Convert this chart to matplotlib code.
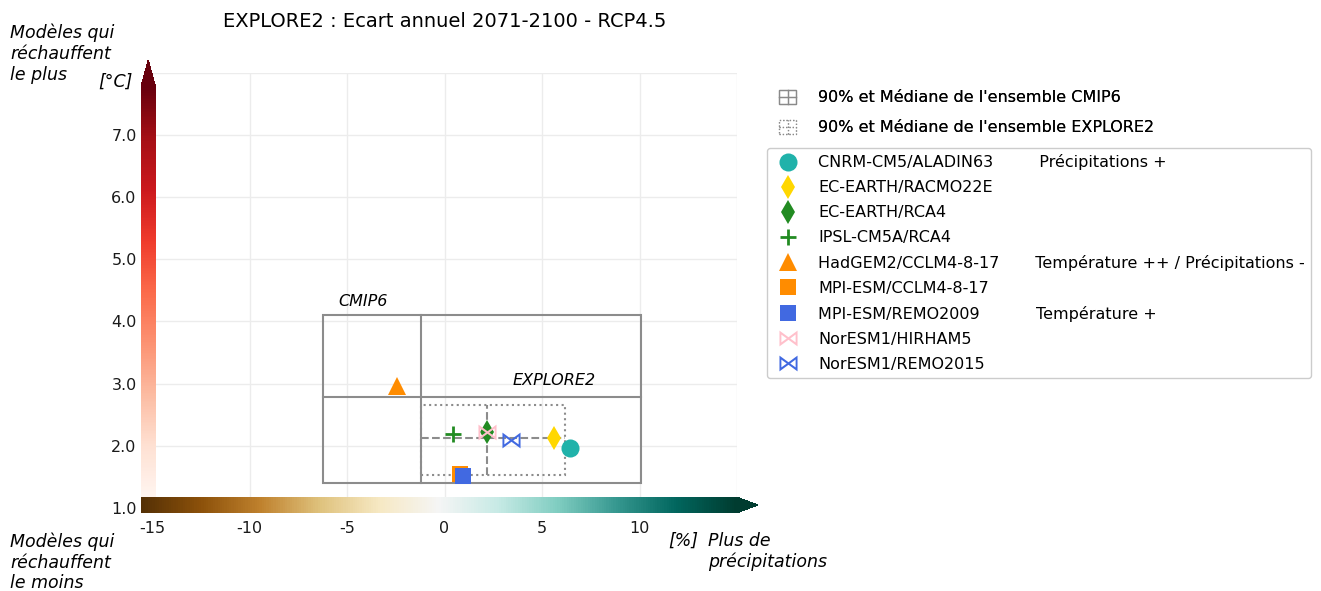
import numpy as np
import matplotlib
matplotlib.use("Agg")
import matplotlib.pyplot as plt
from matplotlib.colors import Normalize
from matplotlib.colorbar import ColorbarBase
from matplotlib.legend_handler import HandlerBase
from matplotlib.patches import Rectangle
from matplotlib.lines import Line2D

# models (precip change %, temperature change degC)
models = ["CNRM-CM5/ALADIN63", "EC-EARTH/RACMO22E", "EC-EARTH/RCA4", "IPSL-CM5A/RCA4",
          "HadGEM2/CCLM4-8-17", "MPI-ESM/CCLM4-8-17", "MPI-ESM/REMO2009",
          "NorESM1/HIRHAM5", "NorESM1/REMO2015"]
precip = [6.45, 5.64, 2.19, 0.42, -2.42, 0.78, 0.95, 2.19, 3.43]
temp = [1.96, 2.12, 2.23, 2.19, 2.97, 1.54, 1.52, 2.22, 2.09]
notes = ["Précipitations +", "", "", "", "Température ++ / Précipitations -", "",
         "Température +", "", ""]
pad = [9, 0, 0, 0, 7, 0, 11, 0, 0]

markers = ["o", "d", "d", "+", "^", "s", "s", "$\\bowtie$", "$\\bowtie$"]
colors = ["lightseagreen", "gold", "forestgreen", "forestgreen", "darkorange",
          "darkorange", "royalblue", "pink", "royalblue"]
sizes = [13, 12.5, 12, 11, 13, 12, 12, 13, 13]

# ensembles: 5%, median, 95%
cmip6_pr = [-6.22, -1.21, 10.08]
cmip6_tas = [1.41, 2.79, 4.10]
explore2_pr = [-1.23, 2.19, 6.18]
explore2_tas = [1.53, 2.12, 2.66]

W, H = 1321, 591
fig = plt.figure(figsize=(W / 100, H / 100), dpi=100)

def fx(px):
    return px / W

def fy(py):
    return 1 - py / H

ax = fig.add_axes([fx(152), fy(508), fx(737) - fx(152), fy(72.8) - fy(508)])
ax.set_xlim(-15, 15)
ax.set_ylim(1, 8)
ax.set_xticks([-15, -10, -5, 0, 5, 10, 15])
ax.set_xticklabels(["-15", "-10", "-5", "0", "5", "10", ""])
ax.set_yticks([1, 2, 3, 4, 5, 6, 7, 8])
ax.set_yticklabels(["1.0", "2.0", "3.0", "4.0", "5.0", "6.0", "7.0", ""])
ax.tick_params(length=0, labelsize=11.5, labelcolor="#1a1a1a")
ax.tick_params(axis="x", pad=9.5)
ax.tick_params(axis="y", pad=11)
ax.grid(True, color="#ececec", lw=1)
ax.set_axisbelow(True)
for s in ax.spines.values():
    s.set_visible(False)
ax.set_title("EXPLORE2 : Ecart annuel 2071-2100 - RCP4.5", fontsize=14, pad=33)

# CMIP6 box
g = "#8c8c8c"
ax.add_patch(Rectangle((cmip6_pr[0], cmip6_tas[0]), cmip6_pr[2] - cmip6_pr[0],
                       cmip6_tas[2] - cmip6_tas[0], fill=False, ec=g, lw=1.5, zorder=2))
ax.plot([cmip6_pr[1], cmip6_pr[1]], [cmip6_tas[0], cmip6_tas[2]], color=g, lw=1.5, zorder=2)
ax.plot([cmip6_pr[0], cmip6_pr[2]], [cmip6_tas[1], cmip6_tas[1]], color=g, lw=1.5, zorder=2)
ax.text(-5.45, 4.32, "CMIP6", style="italic", fontsize=11.5, va="center")

# EXPLORE2 box
ax.add_patch(Rectangle((explore2_pr[0], explore2_tas[0]), explore2_pr[2] - explore2_pr[0],
                       explore2_tas[2] - explore2_tas[0], fill=False, ec=g, lw=1.5,
                       ls=":", zorder=2))
ax.plot([explore2_pr[1], explore2_pr[1]], [explore2_tas[0], explore2_tas[2]], color=g,
        lw=1.5, ls="--", zorder=2)
ax.plot([explore2_pr[0], explore2_pr[2]], [explore2_tas[1], explore2_tas[1]], color=g,
        lw=1.5, ls="--", zorder=2)
ax.text(3.48, 3.05, "EXPLORE2", style="italic", fontsize=11.5, va="center")

handles = []
for i in range(len(models)):
    mew = 2 if markers[i] == "+" else 0
    h, = ax.plot(precip[i], temp[i], ls="none", marker=markers[i], color=colors[i],
                 ms=sizes[i], mew=mew, zorder=5)
    handles.append(h)

# colorbars (extension triangles sit inside the axes)
cax_v = fig.add_axes([fx(141), fy(497), fx(155.5) - fx(141), fy(60) - fy(497)])
cb_v = ColorbarBase(cax_v, cmap=plt.get_cmap("Reds"), norm=Normalize(1, 8),
                    orientation="vertical", extend="max", extendfrac=0.065)
cb_v.set_ticks([])
cb_v.outline.set_visible(False)

cax_h = fig.add_axes([fx(140.7), fy(513), fx(758) - fx(140.7), fy(497) - fy(513)])
cb_h = ColorbarBase(cax_h, cmap=plt.get_cmap("BrBG"), norm=Normalize(-15, 15),
                    orientation="horizontal", extend="max", extendfrac=0.036)
cb_h.set_ticks([])
cb_h.outline.set_visible(False)

# side texts, one line each
top_lines = ["Modèles qui", "réchauffent", "le plus"]
bottom_lines = ["Modèles qui", "réchauffent", "le moins"]
for k in range(3):
    fig.text(fx(10), fy(33 + 21 * k), top_lines[k], style="italic", fontsize=12.5,
             va="center", ha="left")
    fig.text(fx(10), fy(542 + 20.5 * k), bottom_lines[k], style="italic", fontsize=12.5,
             va="center", ha="left")
fig.text(fx(133), fy(82), "[°C]", style="italic", fontsize=12.5, va="center", ha="right")
fig.text(fx(668), fy(541), "[%]", style="italic", fontsize=12.5, va="center", ha="left")
fig.text(fx(708), fy(541), "Plus de", style="italic", fontsize=12.5, va="center", ha="left")
fig.text(fx(708), fy(562), "précipitations", style="italic", fontsize=12.5,
         va="center", ha="left")


class BoxHandler(HandlerBase):
    def __init__(self, ls):
        HandlerBase.__init__(self)
        self.ls = ls

    def create_artists(self, legend, orig_handle, xdescent, ydescent, width, height,
                       fontsize, trans):
        cx = width / 2 - xdescent
        cy = height / 2 - ydescent
        w = 12
        h = 10
        c = "#8a8a8a"
        arts = [Rectangle((cx - w / 2, cy - h / 2), w, h, fill=False, ec=c,
                          lw=0.9, ls=self.ls, transform=trans)]
        arts.append(Line2D([cx, cx], [cy - h / 2, cy + h / 2], color=c, lw=0.9,
                           ls=self.ls, transform=trans))
        arts.append(Line2D([cx - w / 2, cx + w / 2], [cy, cy], color=c, lw=0.9,
                           ls=self.ls, transform=trans))
        return arts


box1 = Rectangle((0, 0), 1, 1)
box2 = Rectangle((0, 0), 1, 1)
leg1 = fig.legend([box1, box2], ["90% et Médiane de l'ensemble CMIP6",
                                 "90% et Médiane de l'ensemble EXPLORE2"],
                  handler_map={box1: BoxHandler("-"), box2: BoxHandler(":")},
                  loc="upper left", bbox_to_anchor=(fx(767), fy(84)), frameon=False,
                  fontsize=11.5, labelspacing=0.94, handlelength=1.8, handletextpad=1.0,
                  borderpad=0.4, borderaxespad=0)

labels = []
for i in range(len(models)):
    if notes[i]:
        labels.append(models[i] + " " * pad[i] + notes[i])
    else:
        labels.append(models[i])
leg2 = fig.legend(handles, labels, loc="upper left", bbox_to_anchor=(fx(767), fy(148)),
                  fontsize=11.5, labelspacing=0.62, handlelength=1.8, handletextpad=1.0,
                  borderaxespad=0, borderpad=0.4, framealpha=1, edgecolor="#cccccc",
                  numpoints=1)
fig.add_artist(leg1)

fig.savefig("out.png", dpi=100)
